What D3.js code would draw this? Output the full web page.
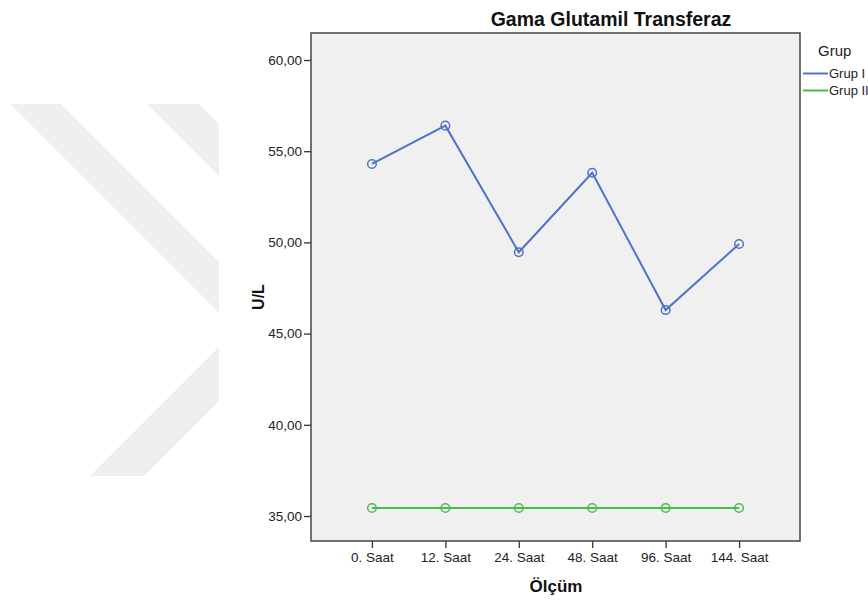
<!DOCTYPE html>
<html>
<head>
<meta charset="utf-8">
<script src="https://cdn.jsdelivr.net/npm/d3@7"></script>
<style>
  body { margin: 0; background: #fff; }
  svg { font-family: "Liberation Sans", Arial, sans-serif; display: block; }
</style>
</head>
<body>
<svg width="868" height="601"></svg>
<script>
// measurement times and group means (U/L)
var olcum = ["0. Saat", "12. Saat", "24. Saat", "48. Saat", "96. Saat", "144. Saat"]
var grup1 = [54.30, 56.40, 49.46, 53.82, 46.29, 49.91]
var grup2 = [35.44, 35.44, 35.44, 35.44, 35.44, 35.44]
var yTicks = [35, 40, 45, 50, 55, 60]
var groups = ["Grup I", "Grup II"]
var colors = ["#4f74c6", "#45be4b"]

var svg = d3.select("svg")

// faint background watermark (decoration only)
var wm = [
  [[10,104],[61,104],[219,262],[219,313]],
  [[147,104],[199,104],[219,124],[219,176]],
  [[90,476],[144,476],[219,401],[219,347]]
]
svg.selectAll("polygon.wm").data(wm).enter().append("polygon")
  .attr("class", "wm")
  .attr("points", d => d.map(p => p.join(",")).join(" "))
  .attr("fill", "#efefef")

var pl = 311, pr = 800, pt = 33, pb = 541

var x = d3.scalePoint().domain(olcum).range([pl, pr]).padding(0.83)
var y = d3.scaleLinear().domain([33.63, 61.48]).range([pb, pt])

var loc = d3.formatLocale({decimal: ",", thousands: ".", grouping: [3], currency: ["", ""]})
var fmt = loc.format(".2f")

// plot background
svg.append("rect")
  .attr("x", pl).attr("y", pt)
  .attr("width", pr - pl).attr("height", pb - pt)
  .attr("fill", "#f0f0f0")

// axes
var yAxis = svg.append("g")
  .attr("transform", "translate(" + pl + ",0)")
  .call(d3.axisLeft(y).tickValues(yTicks).tickFormat(fmt).tickSize(7).tickPadding(2))
var xAxis = svg.append("g")
  .attr("transform", "translate(0," + pb + ")")
  .call(d3.axisBottom(x).tickSize(7).tickPadding(4))

;[yAxis, xAxis].forEach(function(a){
  a.select(".domain").remove()
  a.selectAll("line").attr("stroke", "#333").attr("stroke-width", 1.3)
  a.selectAll("text").attr("fill", "#222").style("font-size", "13.5px")
})

// frame
svg.append("rect")
  .attr("x", pl).attr("y", pt)
  .attr("width", pr - pl).attr("height", pb - pt)
  .attr("fill", "none").attr("stroke", "#444").attr("stroke-width", 1.5)

// lines + markers
var series = [grup1, grup2]
var line = d3.line().x((d, i) => x(olcum[i])).y(d => y(d))

series.forEach(function(s, k){
  svg.append("path")
    .datum(s)
    .attr("d", line)
    .attr("fill", "none")
    .attr("stroke", colors[k])
    .attr("stroke-width", 2)
  svg.selectAll("circle.s" + k).data(s).enter().append("circle")
    .attr("class", "s" + k)
    .attr("cx", (d, i) => x(olcum[i]))
    .attr("cy", d => y(d))
    .attr("r", 4.3)
    .attr("fill", "none")
    .attr("stroke", colors[k])
    .attr("stroke-width", 1.5)
})

// title
svg.append("text")
  .attr("x", 611).attr("y", 26)
  .attr("text-anchor", "middle")
  .style("font-size", "19.5px").style("font-weight", "bold")
  .attr("fill", "#111")
  .text("Gama Glutamil Transferaz")

// axis titles
svg.append("text")
  .attr("transform", "translate(264,297) rotate(-90)")
  .attr("text-anchor", "middle")
  .style("font-size", "16px").style("font-weight", "bold")
  .attr("fill", "#111")
  .text("U/L")
svg.append("text")
  .attr("x", 556).attr("y", 592)
  .attr("text-anchor", "middle")
  .style("font-size", "17px").style("font-weight", "bold")
  .attr("fill", "#111")
  .text("Ölçüm")

// legend
var lg = svg.append("g")
lg.append("text")
  .attr("x", 818).attr("y", 56)
  .style("font-size", "15px")
  .attr("fill", "#222")
  .text("Grup")
var items = lg.selectAll("g.item").data(groups).enter().append("g")
  .attr("class", "item")
  .attr("transform", (d, i) => "translate(0," + (73.5 + i * 17) + ")")
items.append("line")
  .attr("x1", 803).attr("x2", 828)
  .attr("stroke", (d, i) => colors[i]).attr("stroke-width", 2)
items.append("text")
  .attr("x", 829).attr("y", 4.5)
  .style("font-size", "13px")
  .attr("fill", "#222")
  .text(d => d)
</script>
</body>
</html>
